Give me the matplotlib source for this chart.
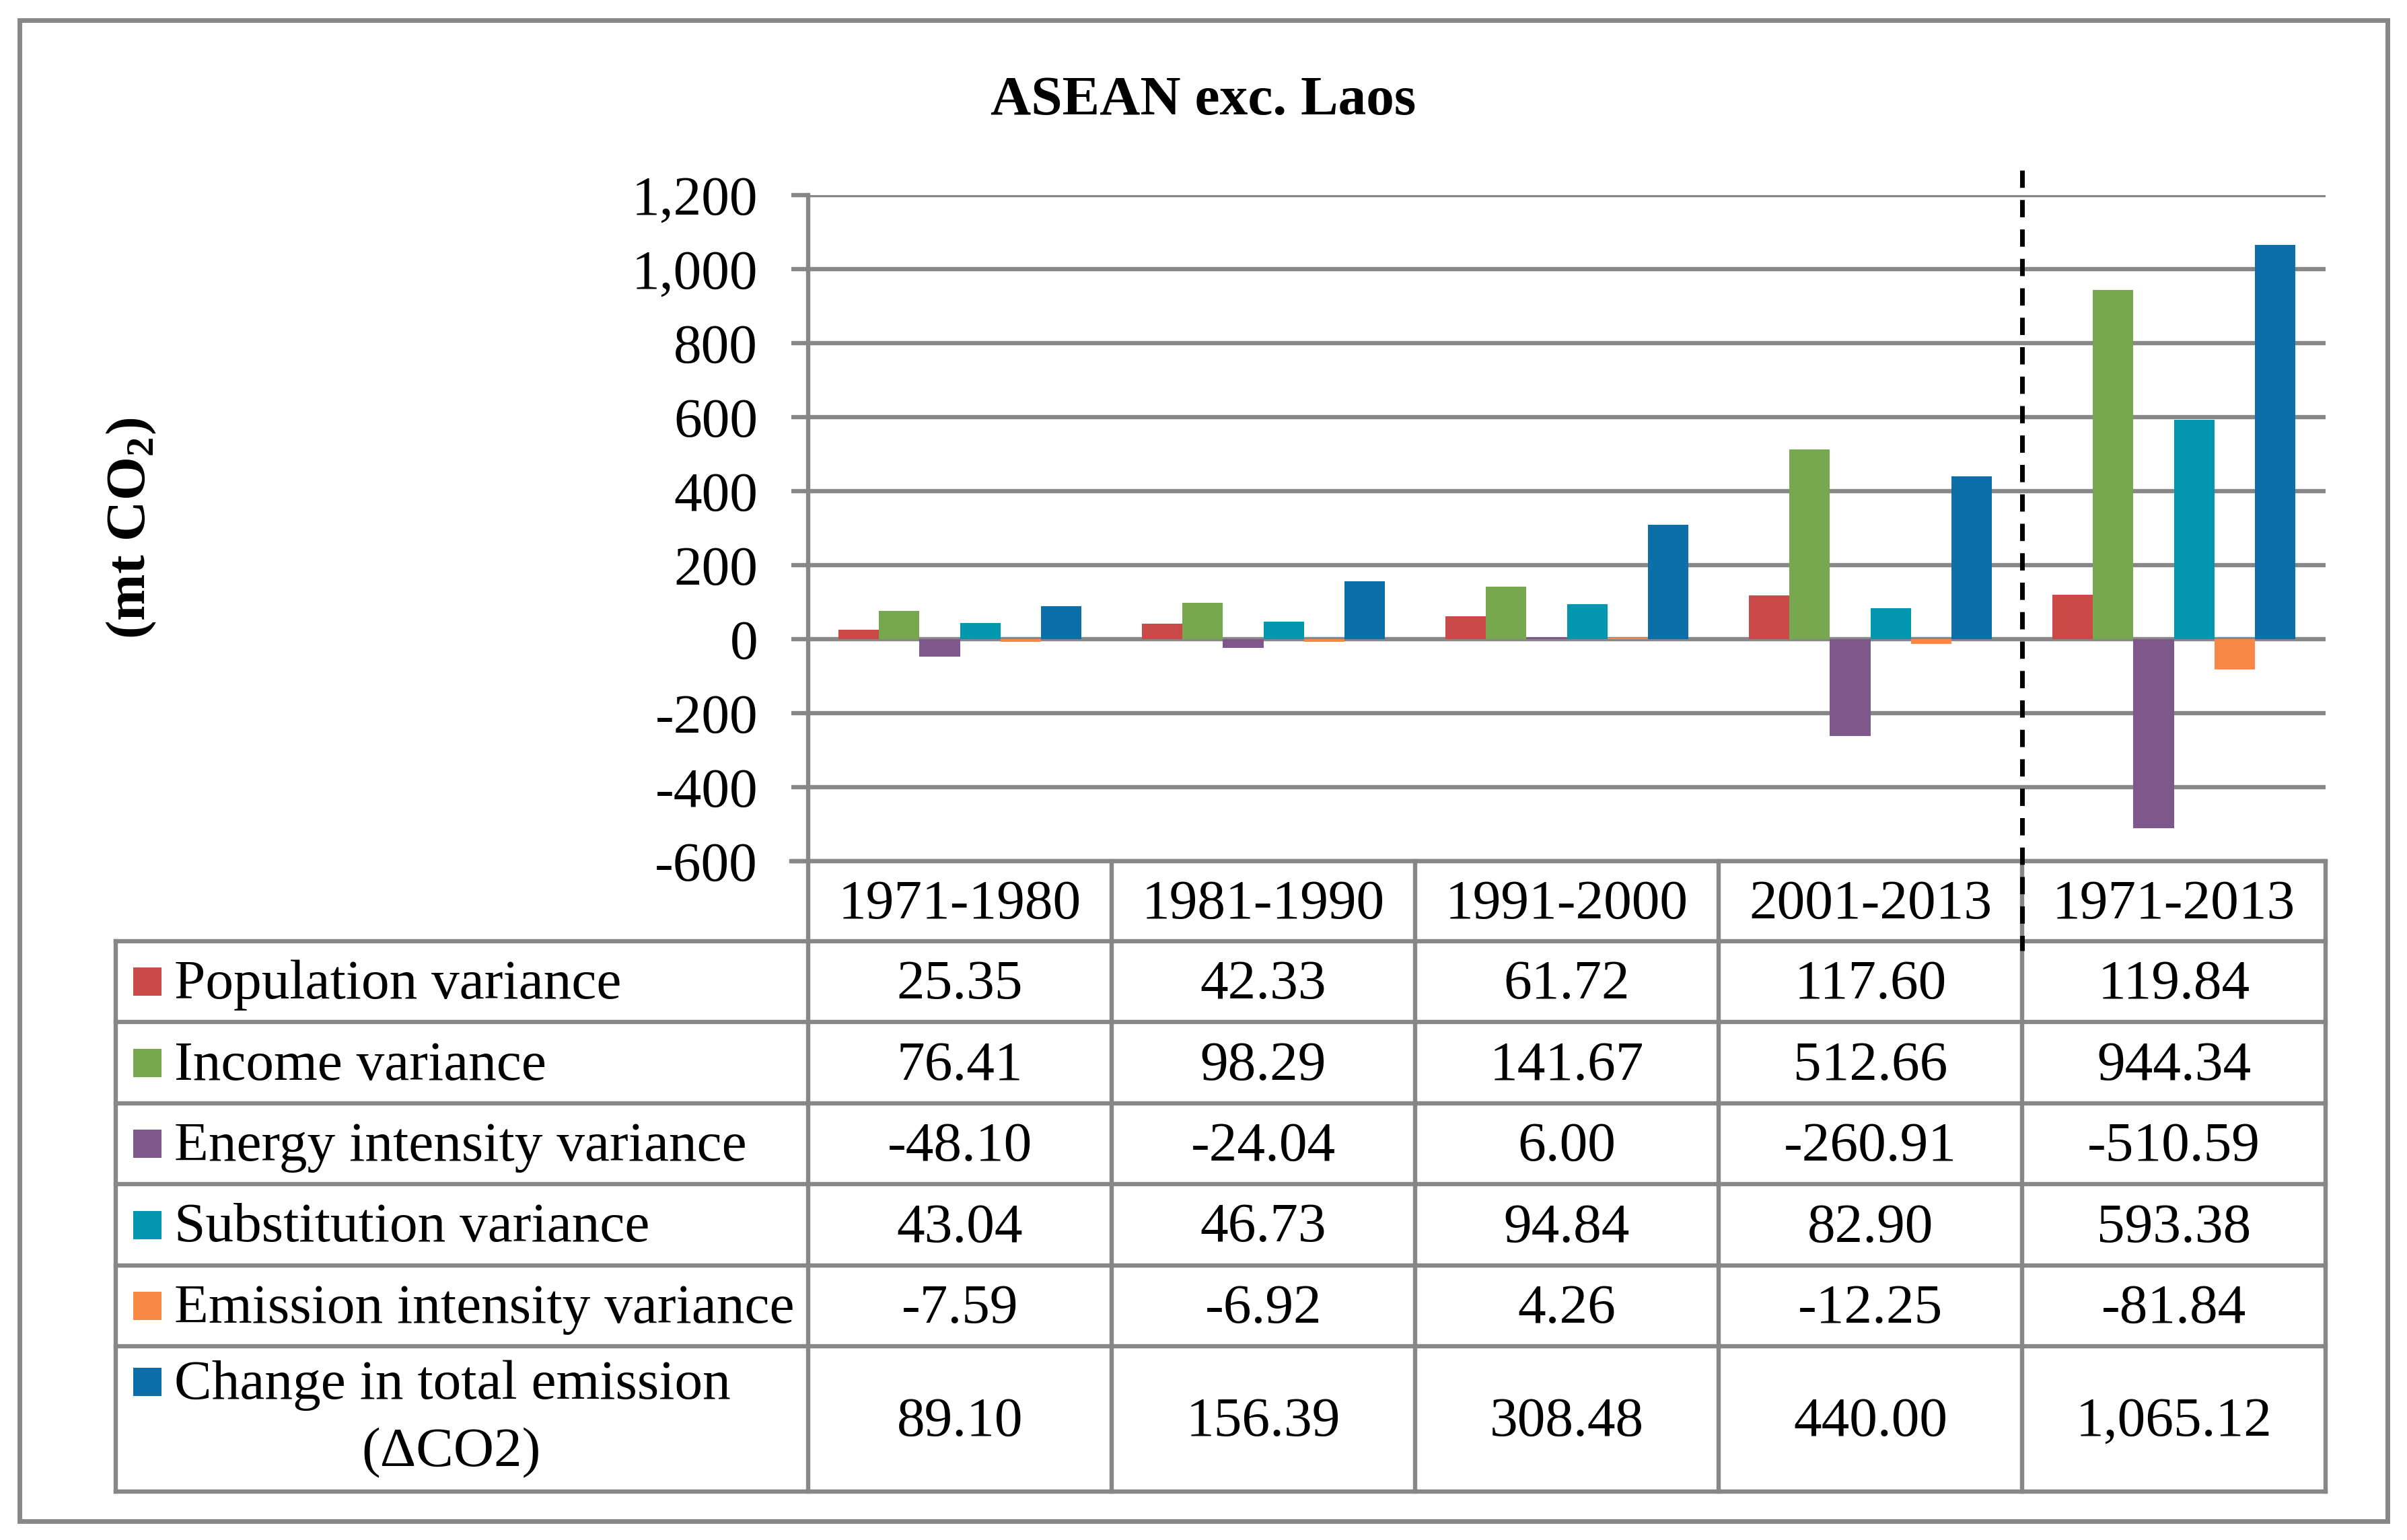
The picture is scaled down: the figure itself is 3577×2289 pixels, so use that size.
import numpy as np
import matplotlib
matplotlib.use("Agg")
import matplotlib.pyplot as plt
from matplotlib.patches import Rectangle

# ---------------- data ----------------
periods = ["1971-1980", "1981-1990", "1991-2000", "2001-2013", "1971-2013"]
series_names = ["Population variance", "Income variance", "Energy intensity variance",
                "Substitution variance", "Emission intensity variance",
                "Change in total emission\n(\u0394CO2)"]
population = [25.35, 42.33, 61.72, 117.60, 119.84]
income = [76.41, 98.29, 141.67, 512.66, 944.34]
energy_intensity = [-48.10, -24.04, 6.00, -260.91, -510.59]
substitution = [43.04, 46.73, 94.84, 82.90, 593.38]
emission_intensity = [-7.59, -6.92, 4.26, -12.25, -81.84]
total_change = [89.10, 156.39, 308.48, 440.00, 1065.12]
series_values = [population, income, energy_intensity, substitution,
                 emission_intensity, total_change]
colors = ["#C94A49", "#77A74F", "#7E588B", "#0397AF", "#F98844", "#0D6FA7"]
yticks = list(range(-600, 1201, 200))

# ---------------- layout ----------------
plt.rcParams["font.family"] = ["Liberation Serif", "DejaVu Serif"]
plt.rcParams["mathtext.fontset"] = "custom"
plt.rcParams["mathtext.rm"] = "Liberation Serif"
plt.rcParams["mathtext.bf"] = "Liberation Serif:bold"

W, H = 3577, 2289
DPI = 100
FS = 60
GRAY = "#878787"
LW = 4.6
em_px = FS * DPI / 72.0
cap_off = 0.30 * em_px  # baseline offset from visual center of caps


def fx(x):
    return x / W


def fy(y):
    return 1 - y / H


fig = plt.figure(figsize=(W / DPI, H / DPI), dpi=DPI)
fig.patch.set_facecolor("white")

ax_left, ax_right, ax_top, ax_bot = 1201, 3456, 290, 1280
ax = fig.add_axes([fx(ax_left), fy(ax_bot), fx(ax_right) - fx(ax_left), fy(ax_top) - fy(ax_bot)])

n = len(series_values)
x = np.arange(len(periods))
width = 1 / 7.5
for i, (vals, col) in enumerate(zip(series_values, colors)):
    ax.bar(x + (i - (n - 1) / 2) * width, vals, width, color=col, zorder=3, linewidth=0)

ax.set_xlim(-0.5, len(periods) - 0.5)
ax.set_ylim(-600, 1200)
ax.set_yticks(yticks)
ax.set_yticklabels([f"{t:,}" for t in yticks])
ax.set_xticks([])
ax.set_axisbelow(True)
ax.yaxis.grid(True, color=GRAY, linewidth=LW)
for s in ["top", "right", "bottom"]:
    ax.spines[s].set_visible(False)
ax.spines["left"].set_color(GRAY)
ax.spines["left"].set_linewidth(LW)
ax.tick_params(axis="y", direction="out", length=18, width=LW, color=GRAY,
               labelsize=FS, pad=36)
ax.patch.set_alpha(0)

# ---------------- overlay for table, border, dashed line ----------------
ov = fig.add_axes([0, 0, 1, 1], zorder=5)
ov.set_xlim(0, W)
ov.set_ylim(H, 0)
ov.axis("off")
ov.patch.set_alpha(0)

col_edges = [ax_left + (ax_right - ax_left) * k / len(periods) for k in range(len(periods) + 1)]
row_edges = [1399, 1519, 1640, 1760, 1881, 2001, 2217]
tbl_left = 172

line_kw = dict(color=GRAY, linewidth=LW, solid_capstyle="projecting")
# header top line
ov.plot([ax_left - 25, ax_right], [ax_bot, ax_bot], **line_kw)
for y in row_edges:
    ov.plot([tbl_left, ax_right], [y, y], **line_kw)
ov.plot([tbl_left, tbl_left], [row_edges[0], row_edges[-1]], **line_kw)
for xe in col_edges:
    ov.plot([xe, xe], [ax_bot, row_edges[-1]], **line_kw)

# header labels
hdr_c = (ax_bot + row_edges[0]) / 2
for k, p in enumerate(periods):
    cx = (col_edges[k] + col_edges[k + 1]) / 2
    ov.text(cx, hdr_c + cap_off, p, ha="center", va="baseline", fontsize=FS)

# rows
for r, (name, vals, col) in enumerate(zip(series_names, series_values, colors)):
    y0, y1 = row_edges[r], row_edges[r + 1]
    yc = (y0 + y1) / 2
    for k, v in enumerate(vals):
        cx = (col_edges[k] + col_edges[k + 1]) / 2
        ov.text(cx, yc + cap_off, f"{v:,.2f}", ha="center", va="baseline", fontsize=FS)
    lines = name.split("\n")
    if len(lines) == 1:
        ov.add_patch(Rectangle((198, yc - 21), 42, 42, color=col, linewidth=0))
        ov.text(259, yc + cap_off, name, ha="left", va="baseline", fontsize=FS)
    else:
        y_first = 2054
        ov.add_patch(Rectangle((198, y_first - 21), 42, 42, color=col, linewidth=0))
        ov.text(259, y_first + cap_off, lines[0], ha="left", va="baseline", fontsize=FS)
        ov.text(671, y_first + 100 + cap_off, lines[1], ha="center", va="baseline", fontsize=FS)

# dashed separator
ov.plot([3005, 3005], [253, 1413], color="black", linewidth=5,
        linestyle=(0, (3.7, 2.6)))

# outer border
ov.add_patch(Rectangle((29, 30), 3548 - 29, 2261 - 30, fill=False,
                       edgecolor=GRAY, linewidth=5))

# title and y label
fig.text(0.5, fy(170), "ASEAN exc. Laos", ha="center", va="baseline",
         fontsize=FS, fontweight="bold")
fig.text(fx(195), fy(785), r"(mt CO$_{\mathbf{2}}$)", rotation=90, ha="center",
         va="center", fontsize=FS, fontweight="bold")

fig.savefig("out.png", dpi=DPI, facecolor="white")
